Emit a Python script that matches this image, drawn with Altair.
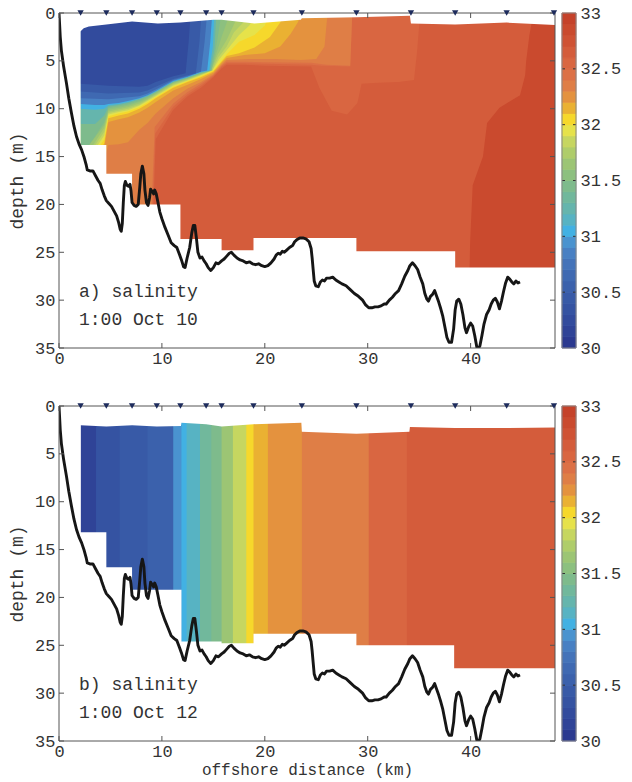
import altair as alt
import pandas as pd

# ---------------------------------------------------------------- data
# CTD station positions along the section (km offshore)
STATIONS = [2.1, 4.6, 7.1, 9.5, 11.8, 14.3, 15.8, 18.9, 23.6, 28.9, 34.2, 38.5, 43.5, 48.1]

# bottom depth along the section: (km offshore, depth m)
BATHY = [
    (0.0, 0.0), (0.05, 1.0), (0.12, 2.5), (0.23, 3.9), (0.45, 5.6), (0.72, 7.3), (0.95, 8.9),
    (1.2, 10.4), (1.45, 11.8), (1.7, 12.9), (1.95, 13.7), (2.2, 14.3), (2.45, 15.1), (2.65, 15.9),
    (2.75, 16.4), (3.0, 16.5), (3.3, 16.5), (3.55, 17.0), (3.8, 17.5), (4.0, 17.8), (4.2, 18.5),
    (4.4, 19.1), (4.6, 19.6), (4.85, 19.9), (5.1, 20.2), (5.35, 20.7), (5.6, 21.2), (5.8, 21.9),
    (5.95, 22.6), (6.05, 22.8), (6.15, 22.0), (6.25, 19.8), (6.35, 18.0), (6.45, 17.6), (6.6, 18.0),
    (6.75, 18.1), (6.9, 17.9), (7.0, 18.6), (7.1, 19.8), (7.3, 20.1), (7.5, 20.2), (7.7, 20.0),
    (7.85, 18.2), (7.95, 16.8), (8.1, 16.0), (8.25, 16.8), (8.35, 18.5), (8.5, 19.8), (8.65, 20.1),
    (8.8, 19.3), (8.9, 18.4), (9.0, 18.7), (9.1, 18.6), (9.2, 18.9), (9.3, 18.5), (9.45, 18.9),
    (9.6, 19.7), (9.8, 20.8), (10.0, 21.5), (10.3, 22.4), (10.6, 23.2), (10.9, 24.0), (11.2, 24.3),
    (11.45, 24.5), (11.7, 25.2), (11.9, 25.8), (12.1, 26.5), (12.25, 26.6), (12.45, 25.6),
    (12.7, 24.5), (12.9, 23.0), (13.05, 22.2), (13.2, 22.2), (13.35, 23.5), (13.5, 25.0),
    (13.7, 25.6), (13.9, 25.5), (14.1, 25.9), (14.3, 26.2), (14.5, 26.6), (14.75, 26.9),
    (15.0, 26.6), (15.25, 26.1), (15.5, 26.2), (15.8, 25.9), (16.05, 25.7), (16.3, 25.4),
    (16.55, 25.1), (16.75, 25.0), (17.0, 25.3), (17.3, 25.6), (17.6, 25.8), (17.9, 25.9),
    (18.2, 26.1), (18.5, 26.0), (18.8, 26.2), (19.1, 26.3), (19.4, 26.2), (19.7, 26.4),
    (20.0, 26.5), (20.3, 26.4), (20.6, 26.1), (20.9, 25.7), (21.1, 25.3), (21.3, 25.1),
    (21.5, 25.2), (21.7, 24.9), (21.9, 25.0), (22.1, 24.8), (22.4, 24.5), (22.7, 24.3),
    (22.9, 23.9), (23.1, 23.7), (23.4, 23.5), (23.7, 23.5), (24.0, 23.6), (24.3, 23.9),
    (24.5, 24.6), (24.6, 25.6), (24.7, 26.8), (24.8, 28.0), (24.95, 28.5), (25.2, 28.6),
    (25.4, 28.1), (25.6, 27.9), (25.8, 28.0), (26.0, 27.7), (26.3, 27.7), (26.6, 27.6),
    (26.9, 27.9), (27.2, 28.1), (27.5, 28.3), (27.9, 28.5), (28.3, 28.9), (28.7, 29.3),
    (29.1, 29.6), (29.5, 30.0), (29.8, 30.5), (30.1, 30.8), (30.4, 30.8), (30.7, 30.7),
    (31.0, 30.7), (31.3, 30.6), (31.6, 30.4), (31.8, 30.4), (32.1, 30.0), (32.4, 29.7),
    (32.7, 29.3), (33.0, 29.0), (33.3, 28.3), (33.6, 27.5), (33.9, 26.9), (34.1, 26.4),
    (34.35, 26.1), (34.6, 26.4), (34.85, 26.8), (35.1, 27.6), (35.35, 28.3), (35.55, 29.3),
    (35.75, 29.9), (35.9, 30.1), (36.1, 29.6), (36.3, 29.4), (36.5, 29.0), (36.7, 29.6),
    (36.9, 30.2), (37.1, 30.9), (37.3, 31.7), (37.5, 32.8), (37.7, 33.9), (37.9, 34.4),
    (38.15, 34.4), (38.35, 33.0), (38.5, 31.0), (38.65, 30.1), (38.85, 29.9), (39.05, 30.4),
    (39.25, 31.5), (39.45, 32.9), (39.6, 33.4), (39.8, 32.8), (40.0, 32.4), (40.2, 32.7),
    (40.4, 33.7), (40.6, 34.9), (40.75, 35.0), (40.9, 34.8), (41.1, 33.7), (41.3, 32.5),
    (41.55, 31.5), (41.8, 31.0), (42.0, 30.4), (42.2, 30.0), (42.4, 29.8), (42.6, 30.2),
    (42.8, 30.9), (43.0, 30.1), (43.2, 29.1), (43.4, 28.2), (43.6, 27.6), (43.8, 27.8),
    (44.0, 28.1), (44.2, 28.3), (44.4, 28.0), (44.6, 28.2), (44.8, 28.1),
]

# salinity classes of the colour scale (0.1 steps, 30 to 33)
SAL_LEVELS = [round(30.0 + 0.1 * k, 1) for k in range(31)]
SAL_COLORS = [
    "#2b3990", "#2f4397", "#324b9d", "#3553a2", "#385aa7", "#3b61ac", "#3f69b2", "#4473b9",
    "#4880c3", "#4a93cf", "#42b1e3", "#57b3c3", "#65b5ad", "#71b89c", "#7ebb8c", "#8cc07f",
    "#9cc574", "#afcd6a", "#c6d660", "#e6e24a", "#f6d82b", "#eab132", "#e4923e", "#df7e46",
    "#dc7046", "#d96641", "#d45c3b", "#cf5234", "#ca4a2e", "#c5422a",
]
CBAR_TICKS = [30, 30.5, 31, 31.5, 32, 32.5, 33]
CBAR_MARKS = [30.5, 31, 31.5, 32, 32.5]
X_TICKS = [0, 10, 20, 30, 40]
Y_TICKS = [0, 5, 10, 15, 20, 25, 30, 35]

# --- Oct 10 section: shallowest and deepest sampled depth
A_TOP_X = [2.1, 2.4, 2.9, 4.6, 7.1, 9.6, 11.8, 15.0, 15.8, 19.0, 23.5, 23.6, 28.9, 34.1, 34.2, 38.5, 43.5, 48.2]
A_TOP_D = [1.9, 1.6, 1.4, 1.2, 0.9, 1.1, 1.0, 0.7, 0.7, 1.1, 0.7, 0.55, 0.45, 0.3, 1.1, 1.2, 1.0, 1.25]
A_FLOOR_X = [2.1, 4.6, 7.1, 11.8, 15.8, 18.9, 28.9, 38.5, 48.2]
A_FLOOR_D = [13.8, 16.8, 20.0, 23.6, 24.8, 23.5, 24.9, 26.6, 26.6]
A_DEEP = 32.85
# filled isohaline layers, saltiest first: (class salinity, km, depth of the layer's lower edge)
A_LAYERS = [
    (32.65, [2.1, 39.75, 39.95, 40.2, 41.2, 41.6, 42.8, 44.8, 45.3, 45.4, 45.7, 46.1],
            [35, 35, 24, 18, 15, 11.5, 9.9, 8.6, 6.5, 5.0, 2.4, 0]),
    (32.55, [2.1, 8.8, 9.2, 9.4, 11.1, 12.5, 13.8, 15.0, 15.8, 16.3, 18.0, 20.0, 24.5, 25.3,
             26.5, 28.0, 29.0, 29.4, 31.0, 33.0, 34.5, 34.8, 35.1],
            [35, 35, 20, 13.2, 10.1, 8.7, 7.8, 6.7, 5.8, 5.4, 5.4, 5.5, 5.6, 7.8,
             10.2, 10.6, 9.4, 7.4, 7.3, 7.2, 7.0, 4.0, 0]),
    (32.45, [2.1, 8.7, 9.1, 9.35, 11.1, 12.5, 13.8, 15.0, 15.8, 16.3, 18.0, 20.0, 24.5, 25.5, 28.3, 28.5],
            [35, 35, 20, 12.6, 9.8, 8.5, 7.6, 6.6, 5.65, 5.25, 5.25, 5.3, 5.4, 5.5, 5.6, 0]),
    (32.35, [2.1, 8.6, 9.0, 9.3, 11.1, 12.5, 13.8, 15.0, 15.8, 16.3, 18.0, 20.0, 24.5, 26.0, 28.3, 28.5],
            [35, 35, 20, 11.9, 9.45, 8.25, 7.4, 6.5, 5.5, 5.1, 5.1, 5.15, 5.2, 5.4, 5.5, 0]),
    (32.25, [2.1, 3.8, 4.4, 4.8, 5.8, 6.7, 7.8, 8.6, 9.0, 9.4, 11.1, 12.5, 13.8, 15.0, 15.8, 16.3,
             18.5, 21.0, 23.5, 25.0, 25.8, 26.1],
            [35, 16.0, 15.3, 13.8, 13.7, 13.5, 12.2, 11.5, 11.0, 10.5, 8.9, 7.9, 7.2, 6.4, 5.4, 4.9,
             4.8, 4.8, 4.9, 4.8, 3.5, 0]),
    (32.15, [2.1, 3.8, 4.4, 4.8, 5.8, 6.7, 7.8, 8.6, 9.4, 11.1, 12.5, 13.8, 15.0, 15.8, 16.3, 18.0,
             20.0, 21.5, 22.5, 23.2, 23.6],
            [35, 15.0, 14.0, 11.4, 11.1, 10.9, 10.4, 9.9, 9.3, 8.1, 7.5, 6.9, 6.25, 5.25, 4.7, 4.4,
             4.2, 3.5, 2.2, 1.0, 0]),
    (32.05, [2.1, 3.7, 4.4, 4.8, 5.8, 6.7, 7.8, 8.6, 9.4, 11.1, 12.5, 13.8, 15.0, 15.8, 16.3, 17.5,
             19.0, 20.5, 21.5, 22.0],
            [35, 14.8, 13.6, 11.0, 10.7, 10.5, 10.0, 9.5, 8.9, 7.8, 7.2, 6.7, 6.1, 5.1, 4.5, 4.2,
             3.6, 2.5, 1.0, 0]),
    (31.95, [2.1, 3.6, 4.4, 4.8, 5.8, 6.7, 7.8, 8.6, 9.4, 11.1, 12.5, 13.8, 15.0, 15.8, 16.3, 17.5,
             19.0, 20.0, 20.5],
            [35, 14.5, 13.2, 10.8, 10.5, 10.3, 9.85, 9.35, 8.8, 7.7, 7.12, 6.6, 6.0, 5.0, 4.3, 3.0,
             2.3, 1.3, 0]),
    (31.85, [2.1, 3.5, 4.4, 4.8, 5.8, 6.7, 7.8, 8.6, 9.4, 11.1, 12.5, 13.8, 14.9, 15.6, 16.3, 17.5,
             18.5, 19.2],
            [35, 14.2, 12.8, 10.6, 10.35, 10.15, 9.7, 9.2, 8.7, 7.6, 7.05, 6.5, 6.0, 4.8, 3.9, 2.3,
             1.3, 0]),
    (31.75, [2.1, 3.4, 4.4, 4.8, 5.8, 6.7, 7.8, 8.6, 9.4, 11.1, 12.5, 13.8, 14.9, 15.5, 16.3, 17.0,
             18.0, 18.5],
            [35, 14.0, 12.4, 10.45, 10.2, 10.0, 9.6, 9.1, 8.6, 7.5, 6.98, 6.45, 6.0, 4.6, 3.5, 2.0,
             0.9, 0]),
    (31.65, [2.1, 3.2, 4.4, 4.8, 5.8, 6.7, 7.8, 8.6, 9.4, 11.1, 12.5, 13.8, 14.8, 15.4, 16.3, 17.0, 17.5],
            [35, 14.0, 12.0, 10.3, 10.05, 9.85, 9.45, 9.0, 8.5, 7.4, 6.9, 6.4, 6.0, 4.4, 2.8, 1.2, 0]),
    (31.55, [2.1, 2.8, 4.4, 4.8, 5.8, 6.7, 7.8, 8.6, 9.4, 11.1, 12.5, 13.8, 14.8, 15.3, 15.8, 16.3, 16.6],
            [35, 14.0, 11.7, 10.1, 9.9, 9.7, 9.3, 8.9, 8.4, 7.3, 6.85, 6.35, 6.0, 4.2, 2.5, 1.0, 0]),
    (31.45, [2.1, 3.5, 4.4, 4.8, 5.8, 6.7, 7.8, 8.6, 9.4, 11.1, 12.5, 13.8, 14.8, 15.2, 15.5, 15.8],
            [15, 12.9, 11.4, 9.95, 9.75, 9.55, 9.2, 8.8, 8.3, 7.25, 6.8, 6.3, 6.0, 4.0, 2.0, 0]),
    (31.25, [2.1, 3.5, 4.4, 4.8, 5.8, 6.7, 7.8, 8.6, 9.4, 11.1, 12.5, 13.8, 14.7, 15.1, 15.3],
            [11.6, 11.6, 10.7, 9.8, 9.6, 9.4, 9.05, 8.7, 8.25, 7.2, 6.75, 6.25, 6.0, 3.8, 0]),
    (31.05, [2.1, 3.5, 4.4, 4.8, 5.8, 6.7, 7.8, 8.6, 9.4, 11.1, 12.5, 13.8, 14.6, 14.95, 15.1],
            [10.0, 10.1, 10.0, 9.65, 9.5, 9.3, 8.95, 8.65, 8.2, 7.15, 6.7, 6.2, 6.0, 3.5, 0]),
    (30.85, [2.1, 3.5, 4.4, 4.8, 5.8, 6.7, 7.8, 8.6, 9.4, 11.1, 12.5, 13.8, 14.4, 14.7, 14.9],
            [9.5, 9.6, 9.6, 9.5, 9.4, 9.2, 8.9, 8.6, 8.15, 7.1, 6.65, 6.15, 6.0, 3.0, 0]),
    (30.65, [2.1, 4.8, 7.8, 8.6, 9.4, 11.1, 12.5, 13.8, 14.15, 14.4],
            [8.9, 9.0, 8.7, 8.4, 8.0, 7.0, 6.6, 6.1, 3.0, 0]),
    (30.45, [2.1, 4.8, 7.8, 8.6, 9.4, 11.1, 12.5, 13.3, 13.65, 13.85],
            [8.2, 8.4, 8.3, 8.1, 7.7, 6.9, 6.5, 6.3, 3.0, 0]),
    (30.25, [2.1, 4.8, 7.8, 8.6, 9.4, 11.1, 12.3, 12.6, 12.8],
            [7.4, 7.6, 7.7, 7.6, 7.2, 6.6, 6.3, 3.0, 0]),
]

# --- Oct 12 section
B_TOP_X = [2.1, 4.6, 7.1, 9.5, 11.85, 11.9, 14.3, 15.8, 18.9, 23.55, 23.6, 28.9, 34.05, 34.1, 38.5, 43.5, 48.2]
B_TOP_D = [2.0, 2.15, 2.0, 2.15, 2.1, 1.75, 1.9, 2.15, 1.9, 1.75, 2.7, 2.9, 2.7, 2.2, 2.3, 2.3, 2.25]
B_FLOOR_X = [2.1, 4.6, 7.1, 11.9, 15.8, 18.9, 28.9, 38.4, 48.2]
B_FLOOR_D = [13.2, 16.85, 19.2, 24.6, 24.8, 23.8, 25.0, 27.4, 27.4]
# western edge of each near-vertical salinity band and its salinity class
B_EDGES = [2.1, 3.6, 5.9, 8.6, 11.1, 11.9, 12.4, 13.7, 14.8, 15.8, 16.9, 18.2, 18.9, 20.3, 23.6, 30.1, 33.8]
B_SAL = [30.15, 30.35, 30.45, 30.55, 30.95, 31.05, 31.15, 31.35, 31.45, 31.65, 31.85, 32.05,
         32.15, 32.25, 32.35, 32.55, 32.65]

# ---------------------------------------------------------------- style
FONT = "Liberation Mono"
INK = "#333333"
FRAME = "#555555"
FS = 17        # tick labels
FT = 18        # titles and panel notes
W, H = 496, 335
CBW = 14
XMAX = 48.2
TICK = 5

x_scale = alt.Scale(domain=[0, XMAX], nice=False, zero=False)
y_scale = alt.Scale(domain=[0, 35], reverse=True, nice=False, zero=False)
sal_scale = alt.Scale(type="threshold", domain=SAL_LEVELS[1:-1], range=SAL_COLORS)

bathy_df = pd.DataFrame(BATHY, columns=["x", "d"])
station_df = pd.DataFrame({"x": STATIONS})


def axes(x_title):
    common = dict(ticks=False, domain=False, grid=False, labelFont=FONT, labelFontSize=FS,
                  labelColor=INK, titleFont=FONT, titleFontWeight="normal", titleColor=INK)
    xa = alt.Axis(title=x_title, values=X_TICKS, labelPadding=2, labelFlush=False,
                  titlePadding=2, titleFontSize=16, **common)
    ya = alt.Axis(title="depth (m)", values=Y_TICKS, labelPadding=4, titlePadding=8,
                  titleFontSize=FT, **common)
    return xa, ya


def panel(fills, top_x, top_d, floor_x, floor_d, label, stamp, x_title):
    xa, ya = axes(x_title)

    def X(f):
        return alt.X(f, type="quantitative", scale=x_scale, axis=xa)

    def Y(f):
        return alt.Y(f, type="quantitative", scale=y_scale, axis=ya)

    layers = fills(X, Y)

    # blank out the water above the shallowest and below the deepest sample;
    # the masks reach back to the coast so the section's western edge stays clean
    top_df = pd.DataFrame({"x": [0.0] + top_x, "d": [top_d[0]] + top_d})
    layers.append(alt.Chart(top_df).mark_area(color="white", interpolate="linear")
                  .encode(x=X("x"), y=Y("d"), y2=alt.datum(0)))
    floor_df = pd.DataFrame({"x": [0.0] + floor_x, "d": [0.0] + floor_d})
    layers.append(alt.Chart(floor_df).mark_area(color="white", interpolate="step-after")
                  .encode(x=X("x"), y=Y("d"), y2=alt.datum(35)))

    # bathymetry
    layers.append(alt.Chart(bathy_df).mark_line(color="#161616", strokeWidth=2.9,
                                                strokeJoin="round", clip=True)
                  .encode(x=X("x"), y=Y("d")))

    # frame and inward ticks
    one = pd.DataFrame({"k": [0]})
    for enc in (dict(x=alt.value(0), x2=alt.value(W), y=alt.value(0)),
                dict(x=alt.value(0), x2=alt.value(W), y=alt.value(H)),
                dict(x=alt.value(0), y=alt.value(0), y2=alt.value(H)),
                dict(x=alt.value(W), y=alt.value(0), y2=alt.value(H))):
        layers.append(alt.Chart(one).mark_rule(color=FRAME, strokeWidth=1).encode(**enc))
    xt = pd.DataFrame({"v": X_TICKS})
    yt = pd.DataFrame({"v": Y_TICKS})
    layers.append(alt.Chart(xt).mark_rule(color=FRAME).encode(
        x=X("v"), y=alt.value(H), y2=alt.value(H - TICK)))
    layers.append(alt.Chart(xt).mark_rule(color=FRAME).encode(
        x=X("v"), y=alt.value(0), y2=alt.value(TICK)))
    layers.append(alt.Chart(yt).mark_rule(color=FRAME).encode(
        y=Y("v"), x=alt.value(0), x2=alt.value(TICK)))
    layers.append(alt.Chart(yt).mark_rule(color=FRAME).encode(
        y=Y("v"), x=alt.value(W), x2=alt.value(W - TICK)))

    # station markers
    layers.append(alt.Chart(station_df).mark_point(shape="triangle-down", filled=True, size=40,
                                                   color="#1d2b5c", opacity=1)
                  .encode(x=X("x"), y=alt.value(0)))

    # panel annotations
    for txt, ypix in ((label, 279), (stamp, 307)):
        layers.append(alt.Chart(pd.DataFrame({"t": [txt]}))
                      .mark_text(align="left", baseline="middle", font=FONT, fontSize=FT, color=INK)
                      .encode(x=alt.value(20), y=alt.value(ypix), text="t:N"))

    return alt.layer(*layers).properties(width=W, height=H)


def fills_oct10(X, Y):
    out = []
    base = pd.DataFrame({"x": [A_TOP_X[0], XMAX], "d": [35, 35], "s": [A_DEEP, A_DEEP]})
    out.append(alt.Chart(base).mark_area(interpolate="linear").encode(
        x=X("x"), y=Y("d"), y2=alt.datum(0),
        color=alt.Color("s:Q", scale=sal_scale, legend=None)))
    for s, xs, ds in A_LAYERS:
        df = pd.DataFrame({"x": xs, "d": ds, "s": [s] * len(xs)})
        out.append(alt.Chart(df).mark_area(interpolate="linear").encode(
            x=X("x"), y=Y("d"), y2=alt.datum(0),
            color=alt.Color("s:Q", scale=sal_scale, legend=None)))
    return out


def fills_oct12(X, Y):
    # each band runs from its western edge to the end of the section; later (offshore)
    # bands are drawn over the earlier ones, so neighbouring bands meet without seams
    df = pd.DataFrame({"x0": B_EDGES, "s": B_SAL})
    return [alt.Chart(df).mark_rect().encode(
        x=X("x0"), x2=alt.datum(XMAX), y=alt.value(0), y2=alt.value(H),
        color=alt.Color("s:Q", scale=sal_scale, legend=None))]


def colorbar():
    df = pd.DataFrame({"lo": SAL_LEVELS[:-1], "hi": SAL_LEVELS[1:]})
    df["s"] = (df["lo"] + df["hi"]) / 2
    cb_scale = alt.Scale(domain=[30, 33], nice=False, zero=False)
    cb_axis = alt.Axis(orient="right", values=CBAR_TICKS, format="~g", ticks=False, domain=False,
                       grid=False, labelFont=FONT, labelFontSize=FS, labelColor=INK,
                       labelPadding=4, title=None)
    bar = alt.Chart(df).mark_rect(strokeWidth=0.8).encode(
        x=alt.value(0), x2=alt.value(CBW),
        y=alt.Y("lo:Q", scale=cb_scale, axis=cb_axis), y2="hi:Q",
        color=alt.Color("s:Q", scale=sal_scale, legend=None),
        stroke=alt.Stroke("s:Q", scale=sal_scale, legend=None))
    marks = pd.DataFrame({"v": CBAR_MARKS})
    left = alt.Chart(marks).mark_rule(color="#333333").encode(
        y=alt.Y("v:Q", scale=cb_scale, axis=cb_axis), x=alt.value(0), x2=alt.value(3))
    right = alt.Chart(marks).mark_rule(color="#333333").encode(
        y=alt.Y("v:Q", scale=cb_scale, axis=cb_axis), x=alt.value(CBW - 3), x2=alt.value(CBW))
    outline = alt.Chart(pd.DataFrame({"k": [0]})).mark_rect(
        fillOpacity=0, stroke="#888888", strokeWidth=1).encode(
        x=alt.value(0), x2=alt.value(CBW), y=alt.value(0), y2=alt.value(H))
    return alt.layer(bar, left, right, outline).properties(width=CBW, height=H)


top = alt.hconcat(
    panel(fills_oct10, A_TOP_X, A_TOP_D, A_FLOOR_X, A_FLOOR_D, "a) salinity", "1:00 Oct 10", None),
    colorbar(), spacing=7, bounds="flush")
bottom = alt.hconcat(
    panel(fills_oct12, B_TOP_X, B_TOP_D, B_FLOOR_X, B_FLOOR_D, "b) salinity", "1:00 Oct 12",
          "offshore distance (km)"),
    colorbar(), spacing=7, bounds="flush")

chart = (alt.vconcat(top, bottom, spacing=31)
         .properties(padding={"left": 8, "top": 4, "right": 2, "bottom": 4}, background="white")
         .configure_view(strokeWidth=0))

chart.save("out.html", embed_options={"renderer": "svg", "actions": False})
